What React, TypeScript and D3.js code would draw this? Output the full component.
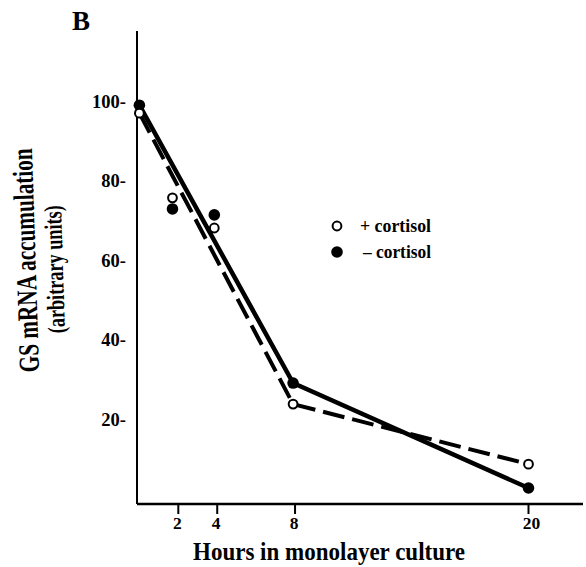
import React from "react";
import * as d3 from "d3";

// values
const hours = [0, 1.7, 3.85, 7.9, 20];
const plusCortisol = [97.7, 76.4, 68.8, 24.5, 9.4];
const minusCortisol = [99.7, 73.6, 72.1, 29.8, 3.4];
const lineIdx = [0, 3, 4]; // the drawn lines join only these points
const xTicks = [2, 4, 8, 20];
const yTicks = [20, 40, 60, 80, 100];

const W = 586;
const H = 567;
const font = "'Liberation Serif', 'Times New Roman', serif";

export default function App() {
  const x = d3.scaleLinear().domain([0, 20]).range([139.4, 528.5]);
  const y = d3.scaleLinear().domain([20, 100]).range([422, 104]);

  const plusPath = d3
    .line<number>()
    .x(i => x(hours[i]))
    .y(i => y(plusCortisol[i]))(lineIdx);
  const minusPath = d3
    .line<number>()
    .x(i => x(hours[i]))
    .y(i => y(minusCortisol[i]))(lineIdx);

  const axisY = 504;
  const axisX = 137;

  return (
    <div style={{ position: "absolute", left: 0, top: 0 }}>
      <svg width={W} height={H} style={{ display: "block", background: "#fff" }}>
        <g fontFamily={font} fontWeight="bold" fill="#000">
          <text x={72} y={30} fontSize={27} fill="#000">B</text>

          {/* axes */}
          <line x1={axisX} x2={axisX} y1={31} y2={axisY} stroke="#000" strokeWidth={2} />
          <line x1={axisX} x2={583} y1={axisY} y2={axisY} stroke="#000" strokeWidth={2.5} />

          {yTicks.map(t => (
            <text key={t} x={126} y={y(t) + 3.5} fontSize={18.5} textAnchor="end" fill="#000">
              {t}-
            </text>
          ))}
          {xTicks.map(t => (
            <g key={t}>
              <line x1={x(t)} x2={x(t)} y1={axisY} y2={axisY + 10} stroke="#000" strokeWidth={2} />
              <text x={x(t) + (t === 20 ? 3 : -1)} y={529} fontSize={17.5} textAnchor="middle" fill="#000">{t}</text>
            </g>
          ))}

          {/* lines */}
          <path d={minusPath ?? ""} fill="none" stroke="#000" strokeWidth={4.5} />
          <path d={plusPath ?? ""} fill="none" stroke="#000" strokeWidth={4} strokeDasharray="22 8" />

          {/* points */}
          {hours.map((h, i) => (
            <circle key={"m" + i} cx={x(h)} cy={y(minusCortisol[i])} r={5.8} fill="#000" />
          ))}
          {hours.map((h, i) => (
            <circle key={"p" + i} cx={x(h)} cy={y(plusCortisol[i])} r={4.4} fill="#fff" stroke="#000" strokeWidth={2} />
          ))}

          {/* legend */}
          <circle cx={337} cy={226} r={4.4} fill="#fff" stroke="#000" strokeWidth={2} />
          <text x={360} y={232} fontSize={18} textLength={71} lengthAdjust="spacingAndGlyphs" fill="#000">+ cortisol</text>
          <circle cx={337} cy={252} r={5.8} fill="#000" />
          <text x={363} y={258} fontSize={18} textLength={68} lengthAdjust="spacingAndGlyphs" fill="#000">– cortisol</text>

          {/* titles */}
          <text x={193} y={560} fontSize={25} textLength={272} lengthAdjust="spacingAndGlyphs" fill="#000">
            Hours in monolayer culture
          </text>
          <text transform="translate(39,372) rotate(-91.8)" fontSize={29} textLength={224}
            lengthAdjust="spacingAndGlyphs" fill="#000">
            GS mRNA accumulation
          </text>
          <text transform="translate(65,333) rotate(-91.8)" fontSize={25} textLength={128}
            lengthAdjust="spacingAndGlyphs" fill="#000">
            (arbitrary units)
          </text>
        </g>
      </svg>
    </div>
  );
}
